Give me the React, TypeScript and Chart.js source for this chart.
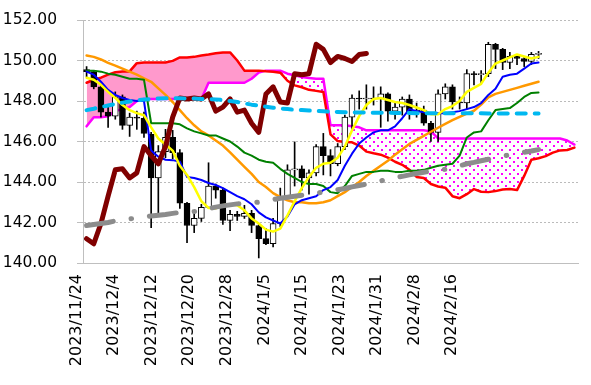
import React, { useEffect, useRef } from 'react';
import { Chart, registerables } from 'chart.js';

Chart.register(...registerables);

// ---- tick labels of the date axis ----
const tickDates = [
  '2023/11/24', '2023/12/4', '2023/12/12', '2023/12/20', '2023/12/28',
  '2024/1/5', '2024/1/15', '2024/1/23', '2024/1/31', '2024/2/8', '2024/2/16',
];

// ---- candles (one per trading day) ----
const openP = [
  149.55, 149.45, 148.70, 147.45, 147.25, 148.20, 146.80, 147.20, 147.15, 146.35,
  144.20, 145.50, 146.20, 145.45, 142.95, 141.85, 142.20, 142.75, 143.80, 143.60,
  142.10, 142.40, 142.30, 142.45, 141.85, 141.20, 140.95, 141.95, 143.30, 144.60,
  144.65, 144.20, 144.45, 145.75, 145.30, 144.90, 145.75, 147.20, 148.15, 148.10,
  148.15, 148.10, 148.35, 147.50, 147.70, 148.10, 147.45, 147.55, 146.90, 146.45,
  148.35, 148.70, 147.95, 147.90, 149.35, 149.30, 149.35, 150.80, 150.55, 149.90,
  150.20, 150.10, 149.95, 150.30,
];
const highP = [
  149.70, 149.50, 148.80, 147.70, 148.45, 148.30, 147.40, 147.50, 147.45, 146.45,
  145.80, 146.60, 146.55, 145.60, 143.00, 142.50, 142.90, 144.95, 143.90, 143.70,
  142.60, 142.55, 142.85, 142.60, 141.95, 141.70, 142.20, 143.70, 144.85, 145.98,
  144.80, 144.60, 145.85, 146.40, 145.60, 145.90, 147.30, 148.30, 148.50, 148.80,
  148.70, 148.70, 148.40, 147.90, 148.20, 148.30, 147.90, 147.75, 147.00, 148.55,
  148.85, 148.80, 148.20, 149.55, 149.45, 149.50, 150.90, 150.85, 150.60, 150.40,
  150.30, 150.20, 150.40, 150.45,
];
const lowP = [
  149.20, 148.60, 147.20, 146.70, 147.10, 146.60, 146.25, 146.60, 146.20, 141.75,
  142.45, 145.20, 145.15, 142.70, 141.00, 141.50, 142.05, 142.70, 143.20, 141.90,
  141.60, 142.10, 142.20, 141.50, 140.25, 140.90, 140.80, 141.80, 143.20, 143.80,
  143.60, 143.40, 144.30, 144.35, 144.30, 144.80, 145.60, 146.60, 147.60, 147.60,
  147.80, 146.70, 147.00, 147.10, 147.30, 147.10, 147.20, 146.80, 146.00, 146.00,
  148.10, 147.60, 147.60, 147.60, 148.80, 148.90, 149.20, 149.60, 149.55, 149.60,
  149.80, 149.70, 149.80, 150.10,
];
const closeP = [
  149.45, 148.70, 147.45, 147.25, 148.20, 146.80, 147.20, 147.15, 146.40, 144.20,
  145.50, 146.20, 145.45, 142.95, 141.85, 142.20, 142.75, 143.80, 143.60, 142.10,
  142.40, 142.30, 142.45, 141.85, 141.20, 140.95, 141.95, 143.30, 144.60, 144.65,
  144.20, 144.45, 145.75, 145.30, 144.90, 145.75, 147.20, 148.15, 148.10, 148.15,
  148.10, 148.35, 147.50, 147.70, 148.10, 147.45, 147.55, 146.90, 146.45, 148.35,
  148.70, 147.95, 147.90, 149.35, 149.30, 149.35, 150.80, 150.55, 149.90, 150.20,
  150.10, 149.95, 150.30, 150.35,
];

// ---- indicator lines ----
const lineYellow = [
  149.15, 149.05, 148.80, 148.45, 148.15, 147.80, 147.55, 147.40, 147.30, 146.70,
  146.15, 145.85, 145.55, 144.80, 144.35, 143.75, 143.05, 142.72, 142.70, 142.85,
  142.90, 142.85, 142.60, 142.20, 141.95, 141.65, 141.55, 141.70, 142.35, 143.05,
  143.70, 144.25, 144.70, 144.90, 144.95, 145.20, 145.75, 146.55, 147.25, 147.80,
  148.10, 148.15, 148.05, 147.95, 147.90, 147.80, 147.68, 147.55, 147.35, 147.35,
  147.60, 147.75, 148.00, 148.45, 148.65, 148.85, 149.40, 149.85, 150.00, 150.15,
  150.30, 150.20, 150.10, 150.18,
];
const lineBlue = [
  149.45, 149.30, 148.95, 148.55, 148.30, 148.15, 148.05, 148.00, 148.00, 145.55,
  145.25, 145.10, 145.08, 145.00, 144.25, 144.20, 144.10, 143.95, 143.85, 143.70,
  143.50, 143.30, 143.15, 142.90, 142.50, 142.25, 142.10, 141.95, 142.30, 142.90,
  143.10, 143.20, 143.30, 143.60, 143.75, 144.10, 144.80, 145.40, 145.90, 146.20,
  146.45, 146.55, 146.55, 146.75, 147.15, 147.60, 147.50, 147.45, 147.40, 147.40,
  147.40, 147.45, 147.50, 147.60, 147.70, 147.90, 148.30, 148.60, 149.20, 149.30,
  149.35, 149.60, 149.85, 149.90,
];
const lineGreen = [
  149.50, 149.50, 149.45, 149.35, 149.30, 149.20, 149.10, 149.10, 149.05, 146.90,
  146.90, 146.90, 146.90, 146.85, 146.65, 146.50, 146.40, 146.30, 146.30, 146.15,
  146.00, 145.75, 145.45, 145.30, 145.10, 145.00, 144.95, 144.65, 144.40, 144.20,
  144.00, 143.90, 143.90, 143.80, 143.50, 143.45, 143.80, 144.30, 144.40, 144.50,
  144.50, 144.55, 144.55, 144.50, 144.50, 144.55, 144.55, 144.60, 144.70, 144.80,
  144.85, 144.90, 145.30, 146.20, 146.45, 146.50, 147.05, 147.55, 147.60, 147.65,
  147.90, 148.20, 148.40, 148.42,
];
const lineOrange = [
  150.25, 150.18, 150.05, 149.88, 149.75, 149.60, 149.45, 149.30, 149.12, 148.95,
  148.62, 148.30, 147.95, 147.55, 147.15, 146.80, 146.50, 146.30, 146.05, 145.80,
  145.46, 145.10, 144.75, 144.40, 144.00, 143.75, 143.45, 143.25, 143.10, 143.00,
  143.00, 142.95, 142.95, 143.00, 143.10, 143.30, 143.50, 143.75, 144.00, 144.30,
  144.55, 144.80, 145.05, 145.35, 145.62, 145.88, 146.08, 146.28, 146.48, 146.68,
  146.87, 147.05, 147.22, 147.38, 147.52, 147.82, 148.18, 148.35, 148.45, 148.55,
  148.65, 148.75, 148.85, 148.95,
];
const lineLightBlue = [
  147.55, 147.62, 147.70, 147.78, 147.85, 147.92, 147.98, 148.03, 148.07, 148.10,
  148.12, 148.13, 148.13, 148.13, 148.12, 148.12, 148.10, 148.10, 148.08, 148.05,
  148.00, 147.95, 147.88, 147.82, 147.77, 147.72, 147.67, 147.63, 147.60, 147.57,
  147.55, 147.53, 147.51, 147.49, 147.47, 147.46, 147.45, 147.44, 147.43, 147.43,
  147.42, 147.42, 147.42, 147.41, 147.41, 147.41, 147.40, 147.40, 147.40, 147.40,
  147.40, 147.39, 147.39, 147.39, 147.39, 147.39, 147.38, 147.38, 147.38, 147.38,
  147.38, 147.38, 147.38, 147.38,
];
const lineGray = [
  141.85, 141.90, 141.95, 142.00, 142.08, 142.12, 142.18, 142.22, 142.27, 142.32,
  142.36, 142.40, 142.45, 142.50, 142.52, 142.54, 142.60, 142.68, 142.76, 142.82,
  142.87, 142.92, 142.95, 142.98, 143.00, 143.06, 143.13, 143.20, 143.25, 143.30,
  143.35, 143.40, 143.45, 143.50, 143.56, 143.62, 143.68, 143.76, 143.83, 143.90,
  143.97, 144.05, 144.15, 144.22, 144.28, 144.35, 144.42, 144.48, 144.53, 144.57,
  144.63, 144.70, 144.80, 144.90, 144.97, 145.05, 145.12, 145.18, 145.28, 145.34,
  145.40, 145.47, 145.53, 145.60,
];
const lineChikou = [
  141.20, 140.95, 141.95, 143.30, 144.60, 144.65, 144.20, 144.45, 145.75, 145.30,
  144.90, 145.75, 147.20, 148.15, 148.10, 148.15, 148.10, 148.35, 147.50, 147.70,
  148.10, 147.45, 147.55, 146.90, 146.45, 148.35, 148.70, 147.95, 147.90, 149.35,
  149.30, 149.35, 150.80, 150.55, 149.90, 150.20, 150.10, 149.95, 150.30, 150.35,
];
// ---- cloud (leading spans) ----
const spanA = [
  146.75, 147.20, 147.20, 147.25, 147.50, 147.60, 147.70, 148.00, 148.10, 148.10,
  148.10, 148.10, 148.10, 148.10, 148.10, 148.10, 148.10, 148.90, 148.90, 148.90,
  148.90, 148.90, 148.90, 149.10, 149.40, 149.50, 149.50, 149.50, 149.35, 149.27,
  149.18, 149.13, 149.10, 149.10, 146.80, 146.80, 146.80, 146.75, 146.70, 146.55,
  146.55, 146.55, 146.55, 146.55, 146.55, 146.55, 146.55, 146.55, 146.50, 146.15,
  146.15, 146.15, 146.15, 146.15, 146.15, 146.15, 146.15, 146.15, 146.15, 146.15,
  146.15, 146.15, 146.15, 146.15, 146.15, 146.15, 146.15, 146.05, 145.85,
];
const spanB = [
  148.90, 149.05, 149.15, 149.30, 149.42, 149.46, 149.46, 149.87, 149.90, 149.90,
  149.90, 149.90, 149.98, 150.15, 150.15, 150.18, 150.25, 150.30, 150.36, 150.40,
  150.40, 150.00, 149.50, 149.50, 149.50, 149.47, 149.45, 149.40, 149.00, 148.77,
  148.68, 148.55, 148.50, 148.45, 146.35, 146.02, 145.97, 145.96, 145.80, 145.50,
  145.42, 145.35, 145.20, 145.00, 144.85, 144.60, 144.25, 144.20, 143.90, 143.78,
  143.72, 143.30, 143.20, 143.40, 143.65, 143.52, 143.50, 143.55, 143.63, 143.65,
  143.60, 144.30, 145.10, 145.17, 145.28, 145.45, 145.56, 145.58, 145.70,
];

const N_CATS = spanA.length;
const LABEL_STEP = 5.2315;

const pts = (arr: number[]) => arr.map((y, i) => ({ x: i, y }));

export default function App() {
  const ref = useRef<HTMLCanvasElement>(null);

  useEffect(() => {
    const canvas = ref.current!;
    const ctx = canvas.getContext('2d')!;

    const tile = document.createElement('canvas');
    tile.width = 8;
    tile.height = 8;
    const t = tile.getContext('2d')!;
    t.fillStyle = '#FFFFFF';
    t.fillRect(0, 0, 8, 8);
    t.fillStyle = '#FF00FF';
    t.fillRect(1, 1, 2, 2);
    t.fillRect(5, 5, 2, 2);
    const dots = ctx.createPattern(tile, 'repeat')!;

    const xFont = { family: 'DejaVu Sans', size: 16 };
    const yFont = { family: 'DejaVu Sans', size: 15.5 };
    const lineBase = {
      type: 'line' as const,
      pointRadius: 0,
      tension: 0,
      fill: false,
      borderJoinStyle: 'round' as const,
      borderCapStyle: 'round' as const,
    };

    const chart = new Chart(ctx, {
      type: 'line',
      data: {
        datasets: [
          {
            ...lineBase,
            label: 'spanA',
            data: pts(spanA),
            borderColor: '#FF00FF',
            borderWidth: 2.5,
            fill: { target: 1, above: dots, below: '#FF99CC' },
            order: 10,
          },
          {
            ...lineBase,
            label: 'spanB',
            data: pts(spanB),
            borderColor: '#FF0000',
            borderWidth: 2.5,
            order: 9,
          },
          {
            type: 'bar',
            label: 'wick',
            data: lowP.map((l, i) => ({ x: i, y: [l, highP[i]] })),
            backgroundColor: '#000000',
            borderWidth: 0,
            barThickness: 1,
            maxBarThickness: 1,
            grouped: false,
            order: 8,
          },
          {
            type: 'bar',
            label: 'body',
            data: openP.map((o, i) => ({ x: i, y: [o, closeP[i]] })),
            backgroundColor: openP.map((o, i) => (closeP[i] >= o ? '#FFFFFF' : '#000000')),
            borderColor: '#000000',
            borderWidth: 1,
            borderSkipped: false,
            barThickness: 6,
            maxBarThickness: 6,
            grouped: false,
            order: 7,
          },
          { ...lineBase, label: 'orange', data: pts(lineOrange), borderColor: '#FF9900', borderWidth: 2.5, order: 6 },
          { ...lineBase, label: 'green', data: pts(lineGreen), borderColor: '#008000', borderWidth: 2, order: 5 },
          { ...lineBase, label: 'blue', data: pts(lineBlue), borderColor: '#0000FF', borderWidth: 2, order: 4 },
          { ...lineBase, label: 'yellow', data: pts(lineYellow), borderColor: '#FFFF00', borderWidth: 2.5, order: 3 },
          { ...lineBase, label: 'chikou', data: pts(lineChikou), borderColor: '#800000', borderWidth: 5, order: 2 },
          {
            ...lineBase,
            label: 'lightblue',
            data: pts(lineLightBlue),
            borderColor: '#00B8F0',
            borderWidth: 4,
            borderDash: [9, 9],
            order: 1,
          },
          {
            ...lineBase,
            label: 'gray',
            data: pts(lineGray),
            borderColor: '#8C8C8C',
            borderWidth: 5,
            borderDash: [27, 18, 0.5, 18],
            order: 0,
          },
        ] as any,
      },
      options: {
        animation: false,
        responsive: true,
        maintainAspectRatio: false,
        events: [],
        layout: { padding: { top: 20, right: 13, left: 0, bottom: 0 } },
        plugins: { legend: { display: false }, tooltip: { enabled: false } },
        scales: {
          x: {
            type: 'linear',
            min: -0.5,
            max: N_CATS - 0.5,
            offset: false,
            grid: { display: false, drawTicks: false },
            border: { display: true, color: '#BFBFBF', width: 1 },
            afterBuildTicks: (s: any) => {
              s.ticks = tickDates.map((_, k) => ({ value: -0.5 + k * LABEL_STEP }));
            },
            afterFit: (s: any) => {
              s.height = 122;
              s.paddingLeft = 0;
              s.paddingRight = 0;
            },
            ticks: {
              autoSkip: false,
              minRotation: 90,
              maxRotation: 90,
              labelOffset: -6.3,
              padding: 11,
              color: '#000000',
              font: xFont,
              callback: (_v: any, idx: number) => tickDates[idx] ?? '',
            },
          },
          y: {
            min: 140,
            max: 152,
            ticks: {
              stepSize: 2,
              color: '#000000',
              font: yFont,
              padding: 20,
              callback: (v: any) => Number(v).toFixed(2),
            },
            grid: {
              color: '#BBBBBB',
              lineWidth: 1,
              drawTicks: true,
              tickLength: 6,
              tickColor: '#BFBFBF',
              tickBorderDash: [],
            },
            border: { display: true, color: '#BFBFBF', width: 1, dash: [2, 2] },
            afterFit: (s: any) => {
              s.width = 83;
              s.paddingTop = 0;
              s.paddingBottom = 0;
            },
          },
        },
      } as any,
    });

    return () => chart.destroy();
  }, []);

  return (
    <div style={{ position: 'fixed', left: 0, top: 0, width: 591, height: 385, background: '#FFFFFF' }}>
      <canvas ref={ref} />
    </div>
  );
}
